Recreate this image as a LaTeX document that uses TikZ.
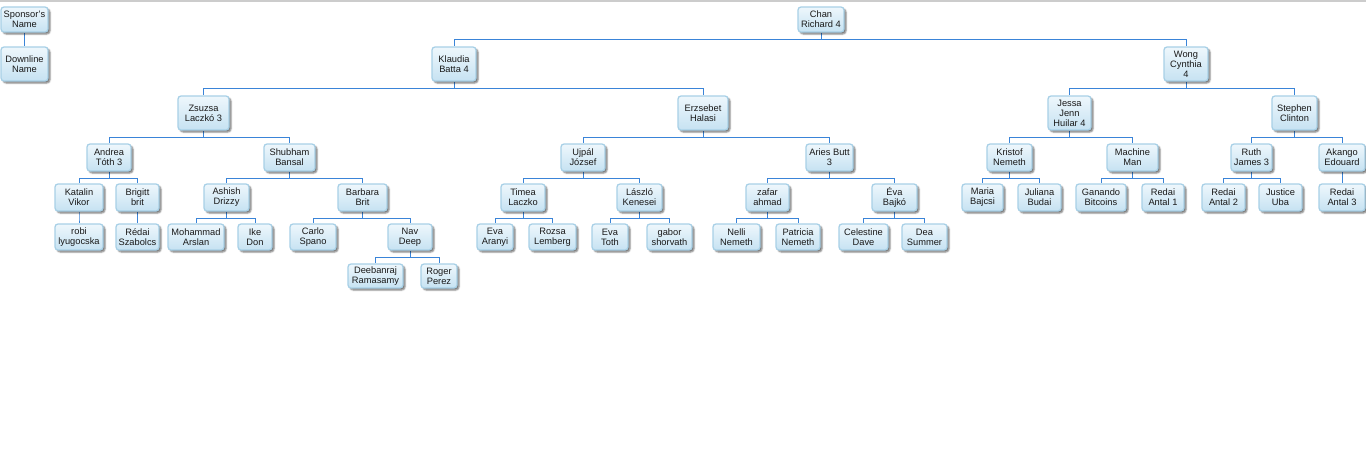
\documentclass[tikz,border=0pt]{standalone}
\usepackage{fontspec}
\setmainfont{Liberation Sans}
\usetikzlibrary{shadows.blur,backgrounds}
\definecolor{bordc}{HTML}{A8D0E6}
\definecolor{filltop}{HTML}{EEF7FC}
\definecolor{fillbot}{HTML}{C6E2F2}
\definecolor{linec}{HTML}{3A84D8}
\definecolor{topline}{HTML}{CCCCCC}
\tikzset{
  box/.style={draw=bordc, line width=1.3pt, rounded corners=3pt,
    top color=filltop, bottom color=fillbot, align=center, inner sep=1pt,
    font=\fontsize{9.3}{10}\selectfont, text=black!90,
    blur shadow={shadow xshift=2pt, shadow yshift=-2pt, shadow blur radius=1.5pt, shadow opacity=55}},
  conn/.style={draw=linec, line width=1pt}
}
\newcommand\nd[6]{\node[box, minimum width={(#3)-(#2)}, minimum height={(#5)-(#4)}] (#1) at ({((#2)+(#3))/2},{((#4)+(#5))/2}) {#6};}
\newcommand\kid[2]{\draw[conn] (#1.south) -- ++(0,7) -| (#2.north);}
\begin{document}
\begin{tikzpicture}[x=1pt,y=-1pt]
\useasboundingbox (0,0) rectangle (1366,467);
\draw[topline, line width=1.6pt] (0,1.2) -- (1366,1.2);
% legend
\nd{sp}{1}{48}{7}{32}{Sponsor's\\Name}
\nd{dl}{1}{48}{47}{81}{Downline\\Name}
% level 0
\nd{chan}{798}{844}{7}{32}{Chan\\Richard 4}
% level 1
\nd{klaudia}{432}{476}{47}{81}{Klaudia\\Batta 4}
\nd{wong}{1164}{1208}{47}{81}{Wong\\Cynthia\\4}
% level 2
\nd{zsuzsa}{178}{229}{96}{130}{Zsuzsa\\Laczkó 3}
\nd{erzsebet}{678}{728}{96}{130}{Erzsebet\\Halasi}
\nd{jessa}{1048}{1091}{96}{130}{Jessa\\Jenn\\Huilar 4}
\nd{stephen}{1272}{1317}{96}{130}{Stephen\\Clinton}
% level 3
\nd{andrea}{87}{131}{144}{171}{Andrea\\Tóth 3}
\nd{shubham}{264}{315}{144}{171}{Shubham\\Bansal}
\nd{ujpal}{561}{605}{144}{171}{Ujpál\\József}
\nd{aries}{806}{853}{144}{171}{Aries Butt\\3}
\nd{kristof}{987}{1032}{144}{171}{Kristof\\Nemeth}
\nd{machine}{1107}{1158}{144}{171}{Machine\\Man}
\nd{ruth}{1231}{1272}{144}{171}{Ruth\\James 3}
\nd{akango}{1319}{1365}{144}{171}{Akango\\Edouard}
% level 4
\nd{katalin}{55}{103}{184}{211}{Katalin\\Vikor}
\nd{brigitt}{116}{159}{184}{211}{Brigitt\\brit}
\nd{ashish}{204}{249}{184}{211}{Ashish\\Drizzy}
\nd{barbara}{338}{387}{184}{211}{Barbara\\Brit}
\nd{timea}{501}{545}{184}{211}{Timea\\Laczko}
\nd{laszlo}{617}{662}{184}{211}{László\\Kenesei}
\nd{zafar}{746}{789}{184}{211}{zafar\\ahmad}
\nd{evab}{872}{917}{184}{211}{Éva\\Bajkó}
\nd{maria}{962}{1003}{184}{211}{Maria\\Bajcsi}
\nd{juliana}{1018}{1061}{184}{211}{Juliana\\Budai}
\nd{ganando}{1076}{1126}{184}{211}{Ganando\\Bitcoins}
\nd{raone}{1142}{1184}{184}{211}{Redai\\Antal 1}
\nd{ratwo}{1202}{1245}{184}{211}{Redai\\Antal 2}
\nd{justice}{1259}{1302}{184}{211}{Justice\\Uba}
\nd{rathree}{1319}{1365}{184}{211}{Redai\\Antal 3}
% level 5
\nd{robi}{55}{103}{224}{250}{robi\\lyugocska}
\nd{rsz}{116}{159}{224}{250}{Rédai\\Szabolcs}
\nd{moh}{168}{224}{224}{250}{Mohammad\\Arslan}
\nd{ike}{238}{272}{224}{250}{Ike\\Don}
\nd{carlo}{290}{336}{224}{250}{Carlo\\Spano}
\nd{nav}{388}{432}{224}{250}{Nav\\Deep}
\nd{evaa}{477}{513}{224}{250}{Eva\\Aranyi}
\nd{rozsa}{529}{576}{224}{250}{Rozsa\\Lemberg}
\nd{evat}{592}{628}{224}{250}{Eva\\Toth}
\nd{gabor}{647}{692}{224}{250}{gabor\\shorvath}
\nd{nelli}{713}{760}{224}{250}{Nelli\\Nemeth}
\nd{patricia}{776}{820}{224}{250}{Patricia\\Nemeth}
\nd{celestine}{839}{888}{224}{250}{Celestine\\Dave}
\nd{dea}{902}{947}{224}{250}{Dea\\Summer}
% level 6
\nd{deeb}{348}{403}{264}{288}{Deebanraj\\Ramasamy}
\nd{roger}{421}{457}{264}{288}{Roger\\Perez}
% connectors
\begin{scope}[on background layer]
\draw[conn] (sp.south) -- (dl.north);
\kid{chan}{klaudia}\kid{chan}{wong}
\kid{klaudia}{zsuzsa}\kid{klaudia}{erzsebet}
\kid{wong}{jessa}\kid{wong}{stephen}
\kid{zsuzsa}{andrea}\kid{zsuzsa}{shubham}
\kid{erzsebet}{ujpal}\kid{erzsebet}{aries}
\kid{jessa}{kristof}\kid{jessa}{machine}
\kid{stephen}{ruth}\kid{stephen}{akango}
\kid{andrea}{katalin}\kid{andrea}{brigitt}
\kid{shubham}{ashish}\kid{shubham}{barbara}
\kid{ujpal}{timea}\kid{ujpal}{laszlo}
\kid{aries}{zafar}\kid{aries}{evab}
\kid{kristof}{maria}\kid{kristof}{juliana}
\kid{machine}{ganando}\kid{machine}{raone}
\kid{ruth}{ratwo}\kid{ruth}{justice}
\kid{akango}{rathree}
\kid{katalin}{robi}
\kid{brigitt}{rsz}
\kid{ashish}{moh}\kid{ashish}{ike}
\kid{barbara}{carlo}\kid{barbara}{nav}
\kid{timea}{evaa}\kid{timea}{rozsa}
\kid{laszlo}{evat}\kid{laszlo}{gabor}
\kid{zafar}{nelli}\kid{zafar}{patricia}
\kid{evab}{celestine}\kid{evab}{dea}
\kid{nav}{deeb}\kid{nav}{roger}
\end{scope}
\end{tikzpicture}
\end{document}
